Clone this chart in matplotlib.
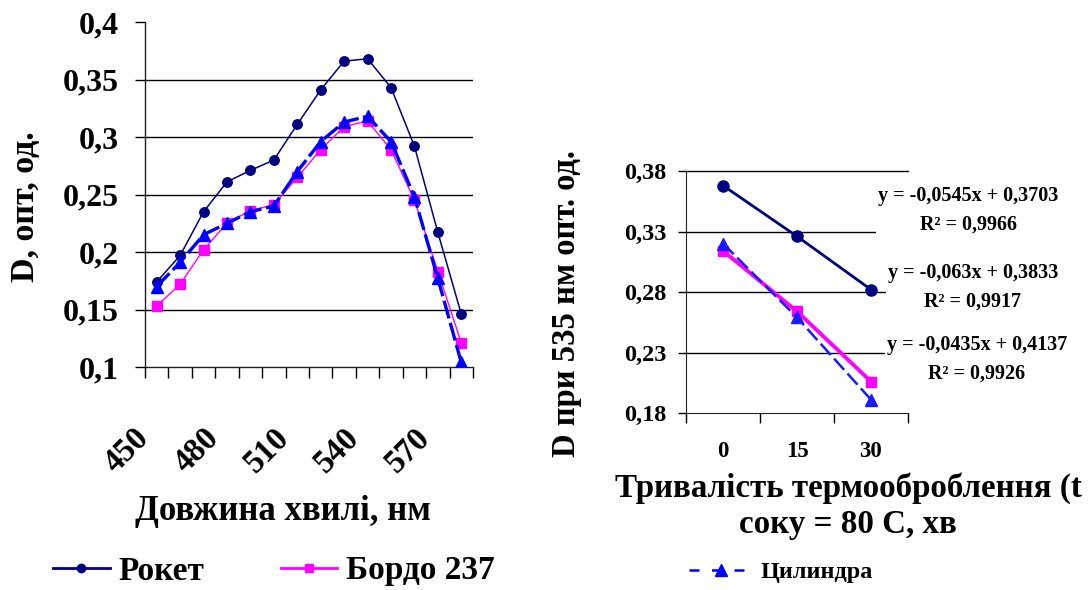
import numpy as np
import matplotlib
matplotlib.use("Agg")
import matplotlib.pyplot as plt
from matplotlib.lines import Line2D
from matplotlib.transforms import ScaledTranslation

plt.rcParams['font.family'] = ['Liberation Serif', 'DejaVu Serif']
plt.rcParams['font.weight'] = 'bold'

# Spectra: optical density vs wavelength
wavelengths = [450, 460, 470, 480, 490, 500, 510, 520, 530, 540, 550, 560, 570, 580]
roket = [0.174, 0.197, 0.235, 0.261, 0.271, 0.280, 0.311, 0.341, 0.366, 0.368,
         0.343, 0.292, 0.217, 0.146]
bordo = [0.153, 0.172, 0.202, 0.225, 0.236, 0.241, 0.265, 0.289, 0.309, 0.314,
         0.289, 0.245, 0.183, 0.121]
tsylindra = [0.170, 0.191, 0.215, 0.225, 0.235, 0.240, 0.270, 0.296, 0.313, 0.318,
             0.296, 0.248, 0.177, 0.104]
wl_labels = [450, 480, 510, 540, 570]
left_yticks = [0.1, 0.15, 0.2, 0.25, 0.3, 0.35, 0.4]

# Optical density at 535 nm vs heating time
times = [0, 15, 30]
roket_t = [0.368, 0.326, 0.282]
bordo_t = [0.314, 0.264, 0.206]
tsylindra_t = [0.320, 0.259, 0.191]
right_yticks = [0.18, 0.23, 0.28, 0.33, 0.38]
equations = ["y = -0,0545x + 0,3703\nR² = 0,9966",
             "y = -0,063x + 0,3833\nR² = 0,9917",
             "y = -0,0435x + 0,4137\nR² = 0,9926"]

NAVY = "#000080"
MAGENTA = "#ff00ff"
BLUE = "#0000ff"

W, H = 1089, 590
fig = plt.figure(figsize=(W / 100, H / 100), dpi=100)
fig.patch.set_facecolor("white")


def fx(px):
    return px / W


def fy(py):
    return 1 - py / H


def comma(v):
    s = f"{v:.2f}".rstrip("0")
    return s.replace(".", ",")


# ---------- left panel ----------
ax = fig.add_axes([fx(145), fy(367), fx(473) - fx(145), fy(22) - fy(367)])
xs = np.arange(len(wavelengths))
ax.plot(xs, roket, color=NAVY, lw=1.1, marker="o", ms=6.8, zorder=4)
ax.plot(xs, bordo, color=MAGENTA, lw=1.0, marker="s", ms=6.5, zorder=3)
ax.plot(xs, tsylindra, color=BLUE, lw=2.4, marker="^", ms=8, dashes=(5.5, 1.4),
        zorder=5)
ax.set_xlim(-0.5, len(wavelengths) - 0.5)
ax.set_ylim(left_yticks[0], left_yticks[-1])
for v in left_yticks[1:-1]:
    ax.axhline(v, color="black", lw=1.0, zorder=1)
for s in ("top", "right"):
    ax.spines[s].set_visible(False)
for s in ("left", "bottom"):
    ax.spines[s].set_color("#222222")
    ax.spines[s].set_linewidth(1.0)
ax.set_yticks(left_yticks)
ax.set_yticklabels([comma(v) for v in left_yticks], fontsize=23, fontweight="bold")
ax.tick_params(axis="y", direction="out", length=7, width=1, pad=12)
ax.set_xticks(np.arange(len(wavelengths) + 1) - 0.5, minor=True)
ax.tick_params(axis="x", which="minor", direction="out", length=8, width=1)
ax.set_xticks([wavelengths.index(w) for w in wl_labels])
ax.set_xticklabels([str(w) for w in wl_labels], rotation=45, ha="right",
                   fontsize=23.5, fontweight="bold")
ax.tick_params(axis="x", which="major", length=0, pad=40)
shift = ScaledTranslation(-2 / 100, 0, fig.dpi_scale_trans)
for lab in ax.get_xticklabels():
    lab.set_transform(lab.get_transform() + shift)

fig.text(fx(26), fy(207), "D, опт, од.", rotation=90, ha="center", va="center",
         fontsize=24.5, fontweight="bold")
fig.text(fx(283), fy(512), "Довжина хвилі, нм", ha="center", va="center",
         fontsize=25, fontweight="bold")

# ---------- right panel ----------
ax2 = fig.add_axes([fx(686), fy(413), fx(908) - fx(686), fy(171) - fy(413)])
xt = np.arange(len(times))
ax2.plot(xt, roket_t, color=NAVY, lw=2.0, marker="o", ms=8, zorder=4)
ax2.plot(xt, bordo_t, color=MAGENTA, lw=2.8, marker="s", ms=7, zorder=3)
ax2.plot(xt, tsylindra_t, color="#1a1aff", lw=1.8, marker="^", ms=8, dashes=(6, 2),
         zorder=5)
ax2.set_xlim(-0.5, len(times) - 0.5)
ax2.set_ylim(right_yticks[0], right_yticks[-1])
ax2.set_yticks(right_yticks)
ax2.set_yticklabels([comma(v) for v in right_yticks], fontsize=17.5, fontweight="bold")
ax2.tick_params(axis="y", direction="out", length=6, width=1, pad=8)
for v in right_yticks[1:]:
    ax2.axhline(v, color="black", lw=1.0, zorder=1, clip_on=False)
for s in ("top", "right"):
    ax2.spines[s].set_visible(False)
for s in ("left", "bottom"):
    ax2.spines[s].set_color("#222222")
ax2.set_xticks(np.arange(len(times) + 1) - 0.5, minor=True)
ax2.tick_params(axis="x", which="minor", direction="out", length=7, width=1)
ax2.set_xticks(xt)
ax2.set_xticklabels([str(t) for t in times], fontsize=16.5, fontweight="bold")
ax2.tick_params(axis="x", which="major", length=0, pad=20)

fig.text(fx(566), fy(304), "D при 535 нм опт. од.", rotation=90, ha="center",
         va="center", fontsize=23.5, fontweight="bold")
fig.text(fx(848), fy(488), "Тривалість термооброблення (t", ha="center", va="center",
         fontsize=23.8, fontweight="bold")
fig.text(fx(848), fy(524), "соку = 80 С, хв", ha="center", va="center",
         fontsize=23.8, fontweight="bold")

eq_pos = [(968, 210), (973, 287), (977, 359)]
for (px, py), txt in zip(eq_pos, equations):
    fig.text(fx(px), fy(py), txt, ha="center", va="center", multialignment="center",
             fontsize=14.5, fontweight="bold", linespacing=1.55,
             bbox=dict(facecolor="white", edgecolor="none", pad=1))

# ---------- legends ----------
roket_h = Line2D([], [], color=NAVY, lw=2, marker="o", ms=6)
bordo_h = Line2D([], [], color=MAGENTA, lw=2, marker="s", ms=6)
fig.legend([roket_h, bordo_h], ["Рокет", "Бордо 237"], loc="center left",
           bbox_to_anchor=(fx(53), fy(571)), ncol=2, frameon=False,
           borderpad=0, borderaxespad=0, handlelength=1.7,
           handletextpad=0.25, columnspacing=2.3,
           prop=dict(size=24, weight="bold"))
cyl_handle = Line2D([], [], color=BLUE, lw=1.8, marker="^", ms=9, dashes=(4, 5))
fig.legend([cyl_handle], ["Цилиндра"], loc="center left",
           bbox_to_anchor=(fx(689), fy(572)), frameon=False,
           borderpad=0, borderaxespad=0, handlelength=2.6,
           handletextpad=0.35, prop=dict(size=17.5, weight="bold"))

fig.savefig("out.png", dpi=100)
